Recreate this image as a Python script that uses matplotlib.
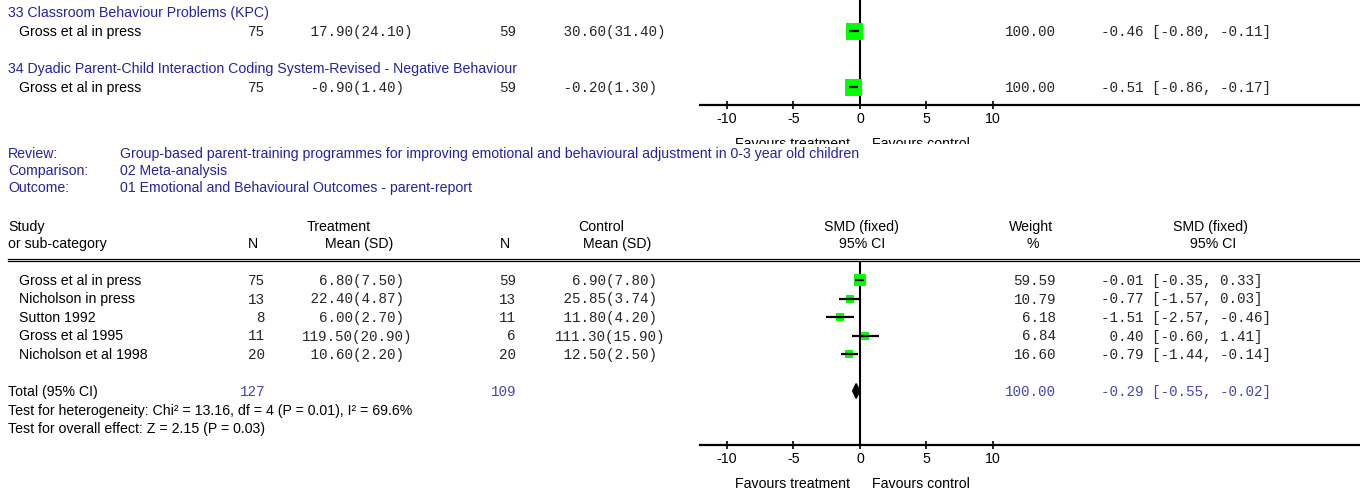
import matplotlib
matplotlib.use('Agg')
import matplotlib.pyplot as plt
from matplotlib.patches import Rectangle, Polygon

plt.rcParams['font.family'] = ['Liberation Sans', 'DejaVu Sans']

# top panel (two single-study outcomes)
top_outcomes = ['33 Classroom Behaviour Problems (KPC)',
                '34 Dyadic Parent-Child Interaction Coding System-Revised - Negative Behaviour']
top_study = ['Gross et al in press', 'Gross et al in press']
top_n_t = [75, 75]
top_mean_t = [17.90, -0.90]
top_sd_t = [24.10, 1.40]
top_n_c = [59, 59]
top_mean_c = [30.60, -0.20]
top_sd_c = [31.40, 1.30]
top_weight = [100.00, 100.00]
top_smd = [-0.46, -0.51]
top_lo = [-0.80, -0.86]
top_hi = [-0.11, -0.17]

# bottom panel (meta-analysis)
review = 'Group-based parent-training programmes for improving emotional and behavioural adjustment in 0-3 year old children'
comparison = '02 Meta-analysis'
outcome = '01 Emotional and Behavioural Outcomes - parent-report'
studies = ['Gross et al in press', 'Nicholson in press', 'Sutton 1992',
           'Gross et al 1995', 'Nicholson et al 1998']
n_t = [75, 13, 8, 11, 20]
mean_t = [6.80, 22.40, 6.00, 119.50, 10.60]
sd_t = [7.50, 4.87, 2.70, 20.90, 2.20]
n_c = [59, 13, 11, 6, 20]
mean_c = [6.90, 25.85, 11.80, 111.30, 12.50]
sd_c = [7.80, 3.74, 4.20, 15.90, 2.50]
weight = [59.59, 10.79, 6.18, 6.84, 16.60]
smd = [-0.01, -0.77, -1.51, 0.40, -0.79]
lo = [-0.35, -1.57, -2.57, -0.60, -1.44]
hi = [0.33, 0.03, -0.46, 1.41, -0.14]
total_n_t, total_n_c = 127, 109
total_weight = 100.00
total_smd, total_lo, total_hi = -0.29, -0.55, -0.02
het_text = 'Test for heterogeneity: Chi² = 13.16, df = 4 (P = 0.01), I² = 69.6%'
overall_text = 'Test for overall effect: Z = 2.15 (P = 0.03)'

ticks = [-10, -5, 0, 5, 10]

BLUE = '#2323a3'
TOTBLUE = '#4646b0'
NUMC = '#262626'
GREEN = '#00ff00'
FS = 10.2
FSM = 10.3
MONO = 'Liberation Mono'

W, H = 1360, 496
fig = plt.figure(figsize=(W / 100, H / 100), dpi=100)
bg = fig.add_axes([0, 0, 1, 1])
bg.set_xlim(0, W)
bg.set_ylim(H, 0)
bg.axis('off')

# x mapping of forest part: 0 at px 860, 13.3 px per unit
X0, PXU = 860, 13.3
FL, FR = 700, 1360


def forest_axes(ytop, ybot, row0, step):
    ax = fig.add_axes([FL / W, 1 - ybot / H, (FR - FL) / W, (ybot - ytop) / H])
    ax.set_xlim((FL - X0) / PXU, (FR - X0) / PXU)
    ax.set_ylim((ybot - row0) / step, (ytop - row0) / step)
    ax.patch.set_alpha(0)
    for s in ['top', 'left', 'right']:
        ax.spines[s].set_visible(False)
    ax.spines['bottom'].set_linewidth(1.6)
    ax.set_yticks([])
    ax.set_xticks(ticks)
    ax.set_xticklabels([str(t) for t in ticks])
    ax.tick_params(axis='x', direction='inout', length=6, width=1.2,
                   labelsize=FS, pad=2)
    ax.axvline(0, color='k', lw=1.5, zorder=1)
    return ax


def txt(x, yc, s, **kw):
    kw.setdefault('fontsize', FS)
    kw.setdefault('va', 'baseline')
    return bg.text(x, yc + 5, s, **kw)


def num(x, yc, s, **kw):
    kw.setdefault('color', NUMC)
    return txt(x, yc, s, family=MONO, fontsize=FSM, **kw)


def study_row(yc, name, nt, mt, st, nc, mc, sc, w, e, l, h):
    txt(19, yc, name, color='black')
    num(265, yc, str(nt), ha='right')
    num(302, yc, f'{mt:6.2f}({st:.2f})')
    num(516, yc, str(nc), ha='right')
    num(555, yc, f'{mc:6.2f}({sc:.2f})')
    num(1056, yc, f'{w:.2f}', ha='right')
    num(1101, yc, f'{e:5.2f} [{l:.2f}, {h:.2f}]')


def square_px(w):
    return 7 + 10 * w / 100


# ---------- top panel ----------
T_ROW0, T_STEP = 12.4, 18.67
axt = forest_axes(0, 105, T_ROW0, T_STEP)
for i in range(len(top_study)):
    r_head = 3 * i
    r = 3 * i + 1
    txt(8, T_ROW0 + r_head * T_STEP, top_outcomes[i], color=BLUE)
    study_row(T_ROW0 + r * T_STEP, top_study[i], top_n_t[i], top_mean_t[i], top_sd_t[i],
              top_n_c[i], top_mean_c[i], top_sd_c[i], top_weight[i],
              top_smd[i], top_lo[i], top_hi[i])
    axt.plot(top_smd[i], r, marker='s', color=GREEN, ms=square_px(top_weight[i]) * 0.72,
             mew=0, zorder=2)
    axt.plot([top_lo[i], top_hi[i]], [r, r], color='k', lw=1.6, zorder=3,
             solid_capstyle='butt')

# the top panel's footer is cut off by the next panel in the reference
clip = Rectangle((0, 0), W, 144, transform=bg.transData)
for x, s, ha in [(850, 'Favours treatment', 'right'), (872, 'Favours control', 'left')]:
    t = txt(x, 143, s, ha=ha, color='black', clip_on=True)
    t.set_clip_path(clip)

# ---------- header ----------
txt(8, 153, 'Review:', color=BLUE)
txt(120, 153, review, color=BLUE)
txt(8, 170, 'Comparison:', color=BLUE)
txt(120, 170, comparison, color=BLUE)
txt(8, 187, 'Outcome:', color=BLUE)
txt(120, 187, outcome, color=BLUE)

txt(8, 226, 'Study')
txt(339, 226, 'Treatment', ha='center')
txt(601, 226, 'Control', ha='center')
txt(861, 226, 'SMD (fixed)', ha='center')
txt(1031, 226, 'Weight', ha='center')
txt(1210, 226, 'SMD (fixed)', ha='center')
txt(8, 243, 'or sub-category')
txt(253, 243, 'N', ha='center')
txt(359, 243, 'Mean (SD)', ha='center')
txt(505, 243, 'N', ha='center')
txt(617, 243, 'Mean (SD)', ha='center')
txt(862, 243, '95% CI', ha='center')
txt(1033, 243, '%', ha='center')
txt(1213, 243, '95% CI', ha='center')

bg.plot([8, W], [258.5, 258.5], color='k', lw=0.9)
bg.plot([8, W], [260.6, 260.6], color='k', lw=0.9)

# ---------- bottom panel ----------
B_ROW0, B_STEP = 280, 18.5
axb = forest_axes(262, 445, B_ROW0, B_STEP)
for i in range(len(studies)):
    study_row(B_ROW0 + i * B_STEP, studies[i], n_t[i], mean_t[i], sd_t[i],
              n_c[i], mean_c[i], sd_c[i], weight[i], smd[i], lo[i], hi[i])
    axb.plot(smd[i], i, marker='s', color=GREEN, ms=square_px(weight[i]) * 0.72,
             mew=0, zorder=2)
    axb.plot([lo[i], hi[i]], [i, i], color='k', lw=1.6, zorder=3,
             solid_capstyle='butt')

r_tot = len(studies) + 1
axb.add_patch(Polygon([(total_lo, r_tot), (total_smd, r_tot - 0.4),
                       (total_hi, r_tot), (total_smd, r_tot + 0.4)],
                      closed=True, color='k', zorder=3))
yt = B_ROW0 + r_tot * B_STEP
txt(8, yt, 'Total (95% CI)')
num(265, yt, str(total_n_t), ha='right', color=TOTBLUE)
num(516, yt, str(total_n_c), ha='right', color=TOTBLUE)
num(1056, yt, f'{total_weight:.2f}', ha='right', color=TOTBLUE)
num(1101, yt, f'{total_smd:5.2f} [{total_lo:.2f}, {total_hi:.2f}]', color=TOTBLUE)
txt(8, yt + 18.5, het_text)
txt(8, yt + 37, overall_text)

txt(850, 483, 'Favours treatment', ha='right')
txt(872, 483, 'Favours control', ha='left')

fig.savefig('out.png', dpi=100)
